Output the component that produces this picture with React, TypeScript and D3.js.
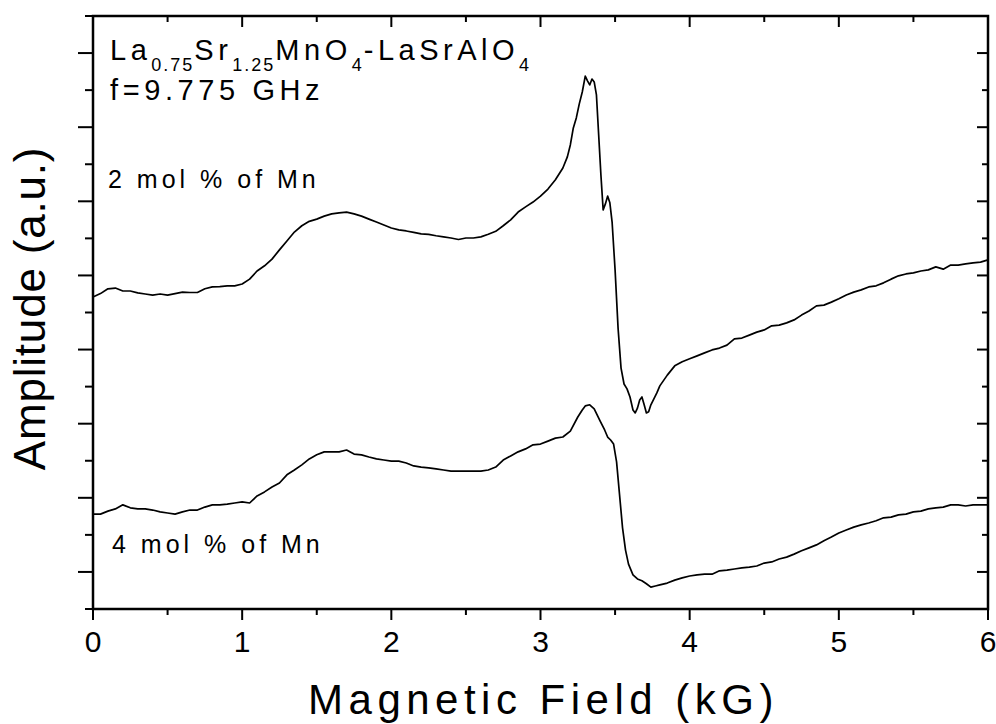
import React from "react";
import * as d3 from "d3";

// EPR spectra of La0.75Sr1.25MnO4 diluted in LaSrAlO4, f = 9.775 GHz
// Field in kG, amplitude in arbitrary units (one minor tick = 1 a.u.)

const field2 = [
  0, 0.05, 0.1, 0.15, 0.2, 0.25, 0.3, 0.35, 0.4, 0.45, 0.5, 0.55, 0.6, 0.65, 0.7, 0.75, 0.8, 0.85, 0.9, 0.95,
  1.0, 1.05, 1.1, 1.15, 1.2, 1.25, 1.3, 1.35, 1.4, 1.45, 1.5, 1.55, 1.6, 1.65, 1.7, 1.75, 1.8, 1.85, 1.9, 1.95,
  2.0, 2.05, 2.1, 2.15, 2.2, 2.25, 2.3, 2.35, 2.4, 2.45, 2.5, 2.55, 2.6, 2.65, 2.7, 2.75, 2.8, 2.85, 2.9, 2.95,
  3.0, 3.05, 3.1, 3.15, 3.18, 3.2, 3.22, 3.24, 3.26, 3.28, 3.3, 3.315, 3.33, 3.345, 3.36, 3.375, 3.39, 3.405,
  3.42, 3.435, 3.45, 3.465, 3.48, 3.5, 3.52, 3.54, 3.56, 3.58, 3.6, 3.62, 3.635, 3.65, 3.665, 3.68, 3.695,
  3.71, 3.725, 3.74, 3.76, 3.78, 3.8, 3.85, 3.9, 3.95, 4.0, 4.05, 4.1, 4.15, 4.2, 4.25, 4.3, 4.35, 4.4, 4.45,
  4.5, 4.55, 4.6, 4.65, 4.7, 4.75, 4.8, 4.85, 4.9, 4.95, 5.0, 5.05, 5.1, 5.15, 5.2, 5.25, 5.3, 5.35, 5.4, 5.45,
  5.5, 5.55, 5.6, 5.65, 5.7, 5.75, 5.8, 5.85, 5.9, 5.95, 6.0,
];
const amp2 = [
  8.42, 8.51, 8.64, 8.66, 8.58, 8.58, 8.53, 8.5, 8.47, 8.5, 8.47, 8.51, 8.55, 8.54, 8.54, 8.64, 8.69, 8.7, 8.72, 8.72,
  8.77, 8.9, 9.12, 9.26, 9.44, 9.69, 9.93, 10.17, 10.34, 10.46, 10.52, 10.6, 10.66, 10.69, 10.71, 10.66, 10.6, 10.52, 10.44, 10.36,
  10.28, 10.23, 10.2, 10.16, 10.12, 10.11, 10.07, 10.04, 10.01, 9.97, 10.01, 10.01, 10.04, 10.11, 10.19, 10.34, 10.5, 10.71, 10.85, 10.98,
  11.14, 11.33, 11.58, 11.9, 12.2, 12.52, 12.98, 13.25, 13.63, 13.95, 14.38, 14.25, 14.14, 14.3, 14.22, 13.87, 12.79, 11.71,
  10.77, 10.93, 11.14, 10.96, 10.44, 9.15, 7.58, 6.5, 6.07, 5.94, 5.72, 5.37, 5.29, 5.42, 5.64, 5.72, 5.51,
  5.29, 5.32, 5.51, 5.67, 5.83, 6.02, 6.31, 6.56, 6.67, 6.75, 6.83, 6.91, 6.99, 7.04, 7.12, 7.29, 7.31, 7.39, 7.47,
  7.53, 7.64, 7.66, 7.72, 7.8, 7.93, 8.04, 8.18, 8.2, 8.28, 8.37, 8.47, 8.55, 8.61, 8.69, 8.72, 8.8, 8.9, 8.99, 9.04,
  9.07, 9.12, 9.15, 9.23, 9.17, 9.28, 9.28, 9.31, 9.34, 9.36, 9.42,
];

const field4 = [
  0, 0.05, 0.1, 0.15, 0.2, 0.25, 0.3, 0.35, 0.4, 0.45, 0.5, 0.55, 0.6, 0.65, 0.7, 0.75, 0.8, 0.85, 0.9, 0.95,
  1.0, 1.05, 1.1, 1.15, 1.2, 1.25, 1.3, 1.35, 1.4, 1.45, 1.5, 1.55, 1.6, 1.65, 1.7, 1.75, 1.8, 1.85, 1.9, 1.95,
  2.0, 2.05, 2.1, 2.15, 2.2, 2.25, 2.3, 2.35, 2.4, 2.45, 2.5, 2.55, 2.6, 2.65, 2.7, 2.75, 2.8, 2.85, 2.9, 2.95,
  3.0, 3.05, 3.1, 3.15, 3.2, 3.25, 3.28, 3.3, 3.33, 3.36, 3.4, 3.43, 3.45, 3.47, 3.49, 3.51, 3.53, 3.55, 3.57,
  3.59, 3.62, 3.65, 3.68, 3.71, 3.74, 3.77, 3.8, 3.85, 3.9, 3.95, 4.0, 4.05, 4.1, 4.15, 4.2, 4.25, 4.3, 4.35,
  4.4, 4.45, 4.5, 4.55, 4.6, 4.65, 4.7, 4.75, 4.8, 4.85, 4.9, 4.95, 5.0, 5.05, 5.1, 5.15, 5.2, 5.25, 5.3, 5.35,
  5.4, 5.45, 5.5, 5.55, 5.6, 5.65, 5.7, 5.75, 5.8, 5.85, 5.9, 5.95, 6.0,
];
const amp4 = [
  2.56, 2.56, 2.64, 2.7, 2.81, 2.73, 2.7, 2.7, 2.67, 2.62, 2.59, 2.56, 2.62, 2.67, 2.67, 2.75, 2.81, 2.81, 2.83, 2.86,
  2.89, 2.86, 3.05, 3.16, 3.29, 3.4, 3.62, 3.75, 3.89, 4.05, 4.16, 4.24, 4.24, 4.24, 4.29, 4.18, 4.16, 4.1, 4.05, 4.02,
  3.99, 3.99, 3.94, 3.86, 3.83, 3.81, 3.78, 3.75, 3.72, 3.72, 3.72, 3.72, 3.72, 3.75, 3.83, 4.02, 4.13, 4.24, 4.32, 4.43,
  4.45, 4.53, 4.61, 4.64, 4.8, 5.18, 5.37, 5.48, 5.51, 5.4, 5.07, 4.83, 4.64, 4.56, 4.45, 3.97, 3.08, 2.19, 1.59,
  1.21, 0.92, 0.81, 0.76, 0.68, 0.59, 0.62, 0.65, 0.7, 0.78, 0.84, 0.89, 0.92, 0.94, 0.94, 1.03, 1.05, 1.08, 1.11,
  1.13, 1.16, 1.24, 1.27, 1.35, 1.4, 1.48, 1.57, 1.65, 1.73, 1.84, 1.94, 2.05, 2.13, 2.21, 2.27, 2.32, 2.38, 2.46, 2.48,
  2.54, 2.56, 2.62, 2.64, 2.7, 2.73, 2.75, 2.81, 2.81, 2.78, 2.81, 2.81, 2.81,
];

const xMajorTicks = [0, 1, 2, 3, 4, 5, 6];
const xMinorTicks = [0.5, 1.5, 2.5, 3.5, 4.5, 5.5];
const yMajorTicks = [1, 3, 5, 7, 9, 11, 13, 15];
const yMinorTicks = [0, 2, 4, 6, 8, 10, 12, 14, 16];

const FONT = "'Liberation Sans', Arial, Helvetica, sans-serif";

export default function App() {
  const W = 996;
  const H = 724;
  const left = 93;
  const right = 988;
  const top = 16;
  const bottom = 609;

  const x = d3.scaleLinear().domain([0, 6]).range([left, right]);
  const y = d3.scaleLinear().domain([0, 16]).range([bottom, top]);

  const line = d3
    .line<[number, number]>()
    .x((d) => x(d[0]))
    .y((d) => y(d[1]));

  const path2 = line(field2.map((f, i) => [f, amp2[i]] as [number, number])) || "";
  const path4 = line(field4.map((f, i) => [f, amp4[i]] as [number, number])) || "";

  const tickW = 2;
  const subSize = 18;
  const subShift = 11;

  return (
    <svg
      width={W}
      height={H}
      viewBox={`0 0 ${W} ${H}`}
      style={{ position: "absolute", left: 0, top: 0, background: "#fff" }}
      fontFamily={FONT}
    >
      <rect x={0} y={0} width={W} height={H} fill="#fff" />

      {/* spectra */}
      <path d={path2} fill="none" stroke="#000" strokeWidth={1.7} strokeLinejoin="round" />
      <path d={path4} fill="none" stroke="#000" strokeWidth={1.7} strokeLinejoin="round" />

      {/* bottom axis ticks (outward) */}
      {xMajorTicks.map((t) => (
        <line key={`xb${t}`} x1={x(t)} x2={x(t)} y1={bottom} y2={bottom + 11} stroke="#000" strokeWidth={tickW} />
      ))}
      {xMinorTicks.map((t) => (
        <line key={`xbm${t}`} x1={x(t)} x2={x(t)} y1={bottom} y2={bottom + 6} stroke="#000" strokeWidth={tickW} />
      ))}
      {/* top axis ticks (inward) */}
      {xMajorTicks.map((t) => (
        <line key={`xt${t}`} x1={x(t)} x2={x(t)} y1={top} y2={top + 11} stroke="#000" strokeWidth={tickW} />
      ))}
      {xMinorTicks.map((t) => (
        <line key={`xtm${t}`} x1={x(t)} x2={x(t)} y1={top} y2={top + 6} stroke="#000" strokeWidth={tickW} />
      ))}
      {/* left axis ticks (outward) */}
      {yMajorTicks.map((t) => (
        <line key={`yl${t}`} x1={left - 15} x2={left} y1={y(t)} y2={y(t)} stroke="#000" strokeWidth={tickW} />
      ))}
      {yMinorTicks.map((t) => (
        <line key={`ylm${t}`} x1={left - 8} x2={left} y1={y(t)} y2={y(t)} stroke="#000" strokeWidth={tickW} />
      ))}
      {/* right axis ticks (inward) */}
      {yMajorTicks.map((t) => (
        <line key={`yr${t}`} x1={right - 11} x2={right} y1={y(t)} y2={y(t)} stroke="#000" strokeWidth={tickW} />
      ))}
      {yMinorTicks.map((t) => (
        <line key={`yrm${t}`} x1={right - 6} x2={right} y1={y(t)} y2={y(t)} stroke="#000" strokeWidth={tickW} />
      ))}

      {/* frame */}
      <rect
        x={left}
        y={top}
        width={right - left}
        height={bottom - top}
        fill="none"
        stroke="#000"
        strokeWidth={2.5}
      />

      {/* x tick labels */}
      {xMajorTicks.map((t) => (
        <text key={`xl${t}`} x={x(t)} y={652} textAnchor="middle" fontSize={30} fill="#000">
          {t}
        </text>
      ))}

      {/* axis titles */}
      <text x={(left + right) / 2 + 3} y={714} textAnchor="middle" fontSize={42} letterSpacing={5.5} fill="#000">
        Magnetic Field (kG)
      </text>
      <text
        transform={`translate(45, ${(top + bottom) / 2 - 4}) rotate(-90)`}
        textAnchor="middle"
        fontSize={44}
        letterSpacing={0.8}
        fill="#000"
      >
        Amplitude (a.u.)
      </text>

      {/* sample annotation */}
      <text x={110} y={60} fontSize={29} letterSpacing={4.5} fill="#000">
        <tspan>La</tspan>
        <tspan fontSize={subSize} letterSpacing={2} dy={subShift}>0.75</tspan>
        <tspan dy={-subShift}>Sr</tspan>
        <tspan fontSize={subSize} letterSpacing={2} dy={subShift}>1.25</tspan>
        <tspan dy={-subShift}>MnO</tspan>
        <tspan fontSize={subSize} letterSpacing={2} dy={subShift}>4</tspan>
        <tspan dy={-subShift}>-LaSrAlO</tspan>
        <tspan fontSize={subSize} letterSpacing={2} dy={subShift}>4</tspan>
      </text>
      <text x={110} y={100} fontSize={29} letterSpacing={4.6} fill="#000">
        f=9.775 GHz
      </text>

      <text x={108} y={188} fontSize={25} letterSpacing={4} fill="#000">
        2 mol % of Mn
      </text>
      <text x={112} y={553} fontSize={25} letterSpacing={4} fill="#000">
        4 mol % of Mn
      </text>
    </svg>
  );
}
